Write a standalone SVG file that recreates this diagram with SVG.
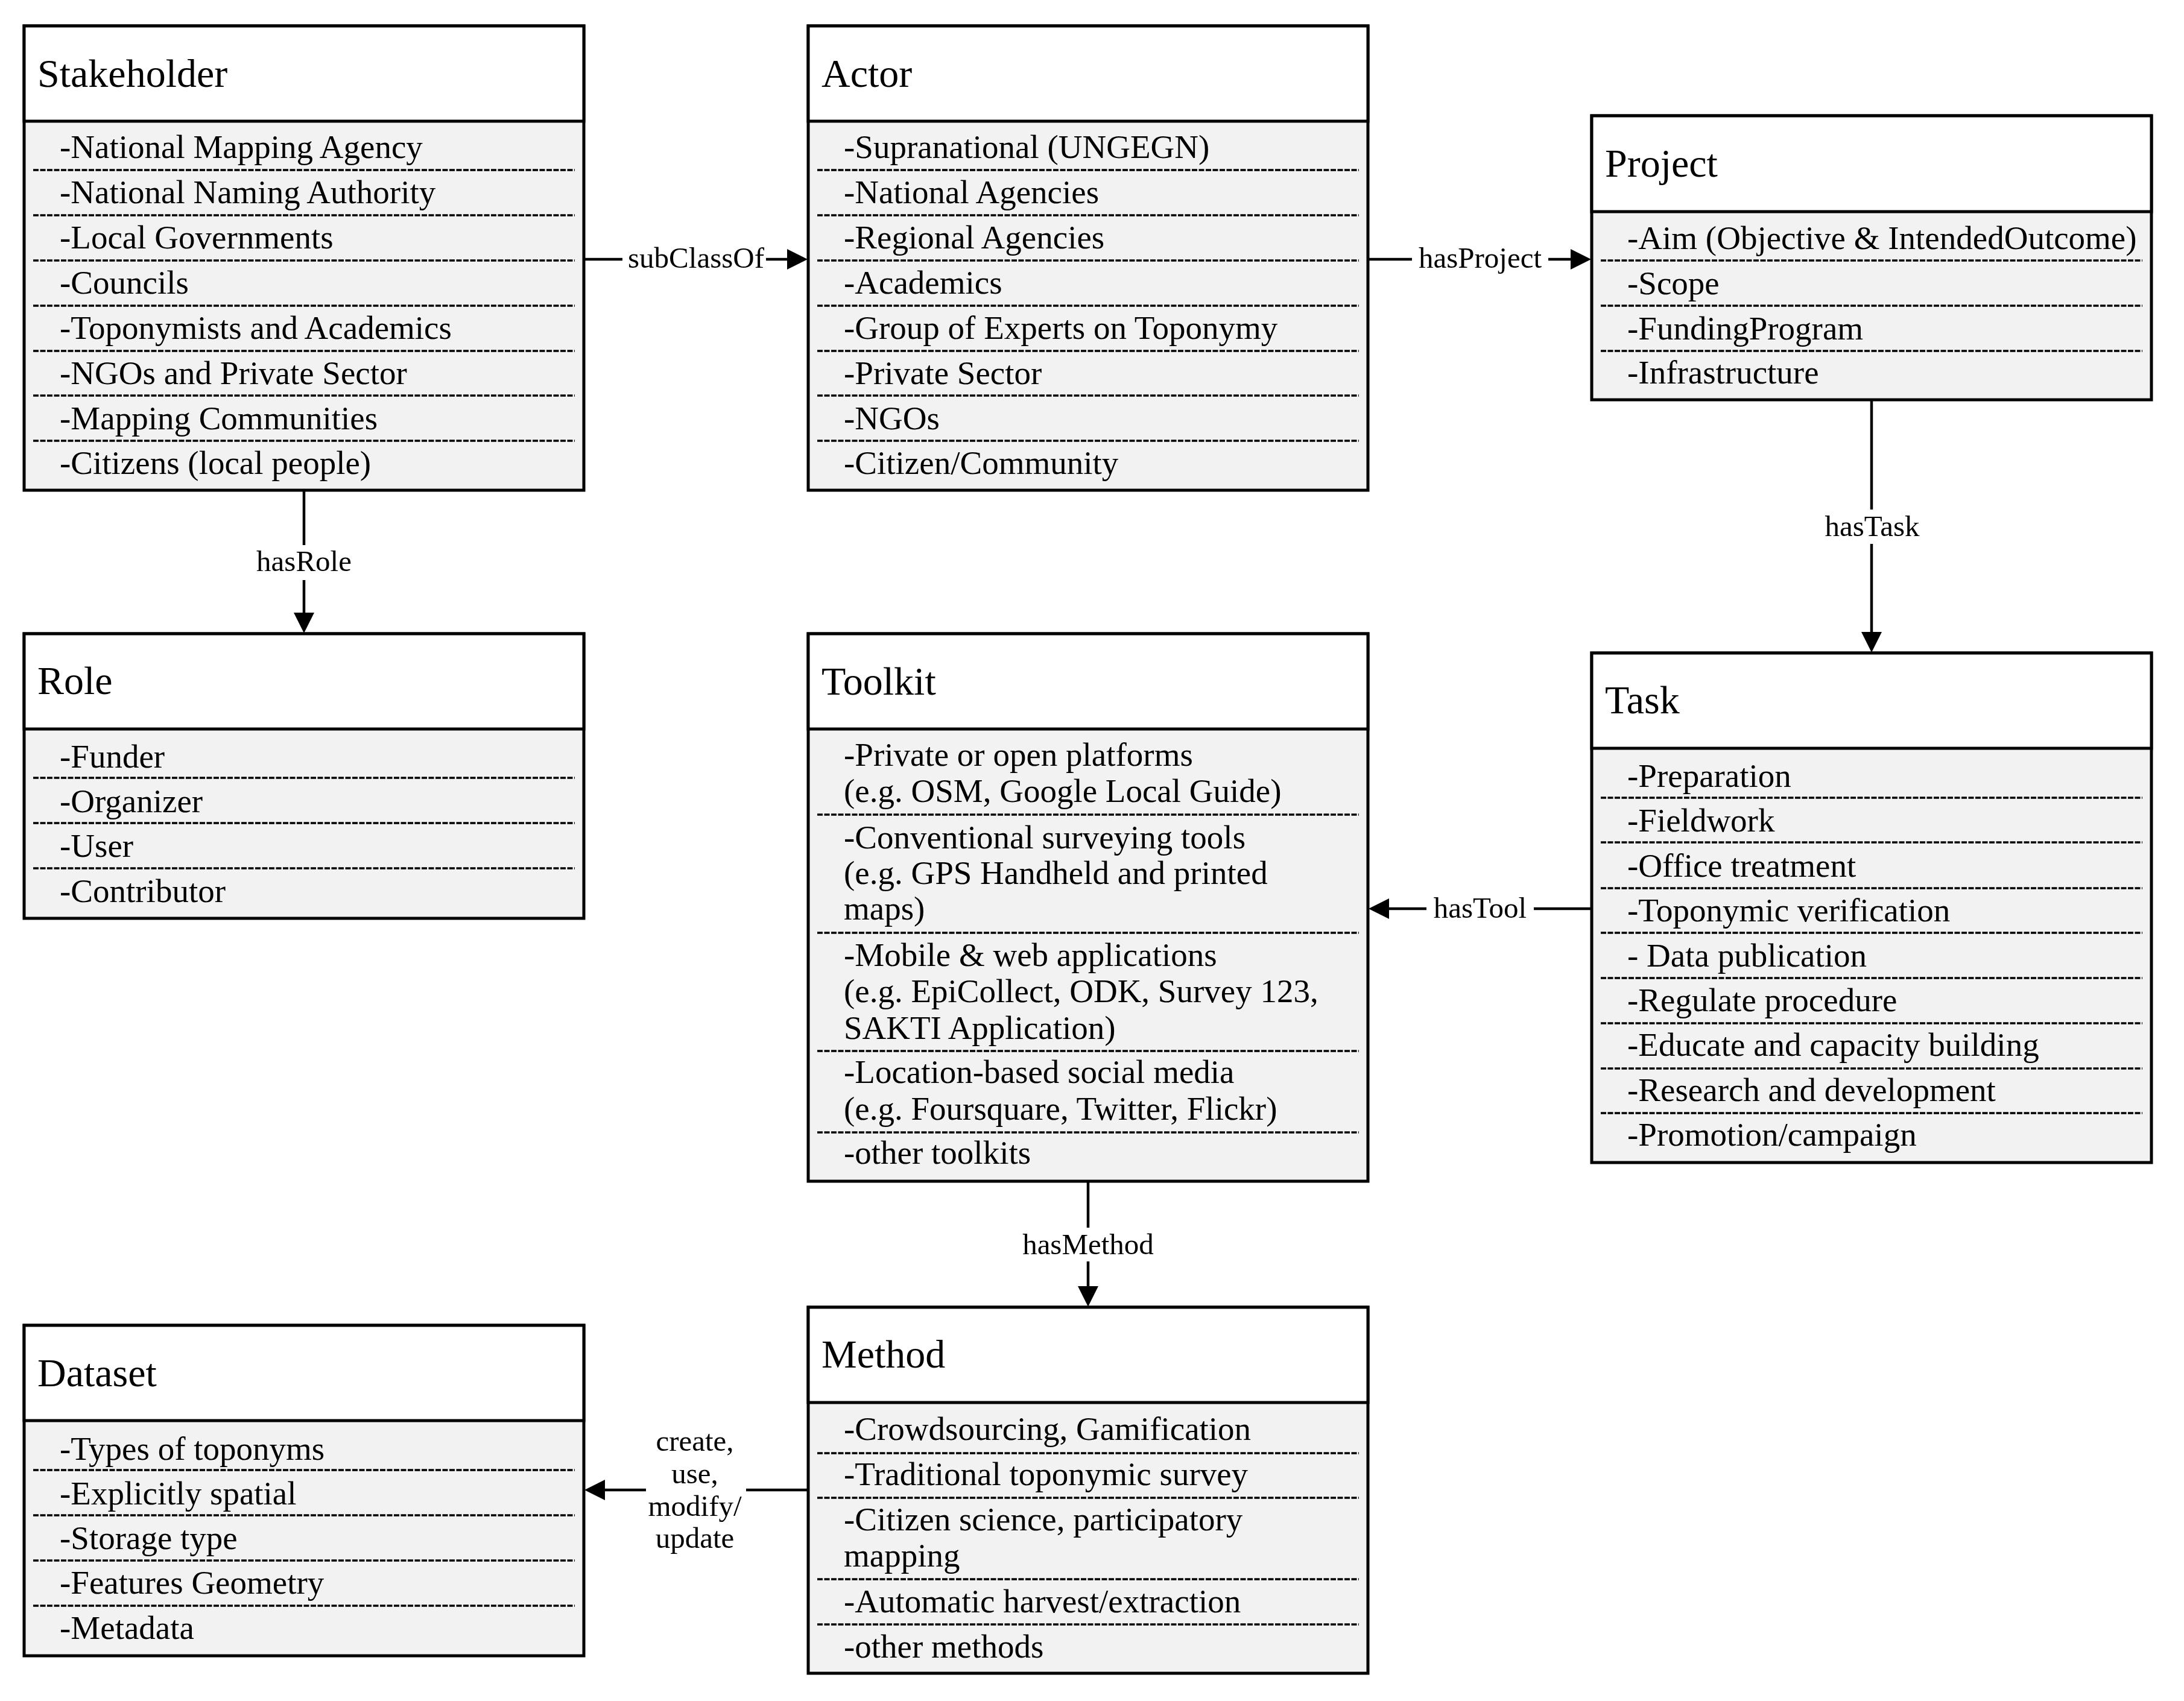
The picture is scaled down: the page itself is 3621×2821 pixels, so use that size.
<svg xmlns="http://www.w3.org/2000/svg" width="3621" height="2821" viewBox="0 0 3621 2821">
<style>
.bd{fill:#f2f2f2;stroke:#000;stroke-width:5}
.hd{fill:#fff;stroke:#000;stroke-width:5}
.dash{stroke:#000;stroke-width:3.5;stroke-dasharray:9 2.5}
text{font-family:"Liberation Serif","Times New Roman",serif;fill:#000}
.t{font-size:66px}
.i{font-size:55px}
.l{font-size:49px;text-anchor:middle}
.c{fill:none;stroke:#000;stroke-width:4.5}
</style>
<defs>
<marker id="arr" markerUnits="userSpaceOnUse" markerWidth="34" markerHeight="34" viewBox="0 0 34 34" refX="1" refY="17" orient="auto">
<path d="M0,0 L34,17 L0,34 z" fill="#000"/>
</marker>
</defs>
<rect width="3621" height="2821" fill="#fff"/>

<g id="connectors">
<path class="c" d="M968,430 H1032 M1270,430 H1306" marker-end="url(#arr)"/>
<text class="l" x="1154" y="444">subClassOf</text>
<path class="c" d="M2268,430 H2341 M2567,430 H2605" marker-end="url(#arr)"/>
<text class="l" x="2454" y="444">hasProject</text>
<path class="c" d="M3103,663 V845 M3103,902 V1049" marker-end="url(#arr)"/>
<text class="l" x="3104" y="889">hasTask</text>
<path class="c" d="M2639,1507 H2543 M2365,1507 H2302" marker-end="url(#arr)"/>
<text class="l" x="2454" y="1522">hasTool</text>
<path class="c" d="M504,813 V904 M504,962 V1017" marker-end="url(#arr)"/>
<text class="l" x="504" y="947">hasRole</text>
<path class="c" d="M1804,1959 V2036 M1804,2092 V2134" marker-end="url(#arr)"/>
<text class="l" x="1804" y="2080">hasMethod</text>
<path class="c" d="M1340,2471 H1237 M1071,2471 H1002" marker-end="url(#arr)"/>
<text class="l" x="1152" y="2406">create,</text>
<text class="l" x="1152" y="2460">use,</text>
<text class="l" x="1152" y="2514">modify/</text>
<text class="l" x="1152" y="2567">update</text>
</g>

<g id="stakeholder">
<rect class="bd" x="40" y="43" width="928" height="770"/>
<rect class="hd" x="40" y="43" width="928" height="158"/>
<text class="t" x="62" y="144">Stakeholder</text>
<g class="dash"><path d="M55,282H953M55,357H953M55,432H953M55,507H953M55,582H953M55,656H953M55,731H953"/></g>
<text class="i" x="99" y="262">-National Mapping Agency</text>
<text class="i" x="99" y="337">-National Naming Authority</text>
<text class="i" x="99" y="412">-Local Governments</text>
<text class="i" x="99" y="487">-Councils</text>
<text class="i" x="99" y="562">-Toponymists and Academics</text>
<text class="i" x="99" y="637">-NGOs and Private Sector</text>
<text class="i" x="99" y="712">-Mapping Communities</text>
<text class="i" x="99" y="786">-Citizens (local people)</text>
</g>

<g id="actor">
<rect class="bd" x="1340" y="43" width="928" height="770"/>
<rect class="hd" x="1340" y="43" width="928" height="158"/>
<text class="t" x="1362" y="144">Actor</text>
<g class="dash"><path d="M1355,282H2253M1355,357H2253M1355,432H2253M1355,507H2253M1355,582H2253M1355,656H2253M1355,731H2253"/></g>
<text class="i" x="1399" y="262">-Supranational (UNGEGN)</text>
<text class="i" x="1399" y="337">-National Agencies</text>
<text class="i" x="1399" y="412">-Regional Agencies</text>
<text class="i" x="1399" y="487">-Academics</text>
<text class="i" x="1399" y="562">-Group of Experts on Toponymy</text>
<text class="i" x="1399" y="637">-Private Sector</text>
<text class="i" x="1399" y="712">-NGOs</text>
<text class="i" x="1399" y="786">-Citizen/Community</text>
</g>

<g id="project">
<rect class="bd" x="2639" y="192" width="928" height="471"/>
<rect class="hd" x="2639" y="192" width="928" height="159"/>
<text class="t" x="2661" y="293">Project</text>
<g class="dash"><path d="M2654,432H3552M2654,507H3552M2654,582H3552"/></g>
<text class="i" x="2698" y="413">-Aim (Objective &amp; IntendedOutcome)</text>
<text class="i" x="2698" y="488">-Scope</text>
<text class="i" x="2698" y="563">-FundingProgram</text>
<text class="i" x="2698" y="636">-Infrastructure</text>
</g>

<g id="role">
<rect class="bd" x="40" y="1051" width="928" height="472"/>
<rect class="hd" x="40" y="1051" width="928" height="158"/>
<text class="t" x="62" y="1151">Role</text>
<g class="dash"><path d="M55,1290H953M55,1365H953M55,1440H953"/></g>
<text class="i" x="99" y="1273">-Funder</text>
<text class="i" x="99" y="1347">-Organizer</text>
<text class="i" x="99" y="1421">-User</text>
<text class="i" x="99" y="1496">-Contributor</text>
</g>

<g id="toolkit">
<rect class="bd" x="1340" y="1051" width="928" height="908"/>
<rect class="hd" x="1340" y="1051" width="928" height="158"/>
<text class="t" x="1362" y="1152">Toolkit</text>
<g class="dash"><path d="M1355,1351H2253M1355,1547H2253M1355,1743H2253M1355,1878H2253"/></g>
<text class="i" x="1399" y="1270">-Private or open platforms</text>
<text class="i" x="1399" y="1330">(e.g. OSM, Google Local Guide)</text>
<text class="i" x="1399" y="1407">-Conventional surveying tools</text>
<text class="i" x="1399" y="1466">(e.g. GPS Handheld and printed</text>
<text class="i" x="1399" y="1525">maps)</text>
<text class="i" x="1399" y="1602">-Mobile &amp; web applications</text>
<text class="i" x="1399" y="1662">(e.g. EpiCollect, ODK, Survey 123,</text>
<text class="i" x="1399" y="1723">SAKTI Application)</text>
<text class="i" x="1399" y="1796">-Location-based social media</text>
<text class="i" x="1399" y="1857">(e.g. Foursquare, Twitter, Flickr)</text>
<text class="i" x="1399" y="1930">-other toolkits</text>
</g>

<g id="task">
<rect class="bd" x="2639" y="1083" width="928" height="845"/>
<rect class="hd" x="2639" y="1083" width="928" height="158"/>
<text class="t" x="2661" y="1183">Task</text>
<g class="dash"><path d="M2654,1323H3552M2654,1397H3552M2654,1473H3552M2654,1547H3552M2654,1622H3552M2654,1697H3552M2654,1772H3552M2654,1846H3552"/></g>
<text class="i" x="2698" y="1305">-Preparation</text>
<text class="i" x="2698" y="1379">-Fieldwork</text>
<text class="i" x="2698" y="1454">-Office treatment</text>
<text class="i" x="2698" y="1528">-Toponymic verification</text>
<text class="i" x="2698" y="1603">- Data publication</text>
<text class="i" x="2698" y="1677">-Regulate procedure</text>
<text class="i" x="2698" y="1751">-Educate and capacity building</text>
<text class="i" x="2698" y="1826">-Research and development</text>
<text class="i" x="2698" y="1900">-Promotion/campaign</text>
</g>

<g id="method">
<rect class="bd" x="1340" y="2168" width="928" height="607"/>
<rect class="hd" x="1340" y="2168" width="928" height="158"/>
<text class="t" x="1362" y="2268">Method</text>
<g class="dash"><path d="M1355,2410H2253M1355,2484H2253M1355,2619H2253M1355,2694H2253"/></g>
<text class="i" x="1399" y="2388">-Crowdsourcing, Gamification</text>
<text class="i" x="1399" y="2463">-Traditional toponymic survey</text>
<text class="i" x="1399" y="2538">-Citizen science, participatory</text>
<text class="i" x="1399" y="2598">mapping</text>
<text class="i" x="1399" y="2674">-Automatic harvest/extraction</text>
<text class="i" x="1399" y="2749">-other methods</text>
</g>

<g id="dataset">
<rect class="bd" x="40" y="2198" width="928" height="548"/>
<rect class="hd" x="40" y="2198" width="928" height="158"/>
<text class="t" x="62" y="2299">Dataset</text>
<g class="dash"><path d="M55,2438H953M55,2513H953M55,2588H953M55,2663H953"/></g>
<text class="i" x="99" y="2421">-Types of toponyms</text>
<text class="i" x="99" y="2495">-Explicitly spatial</text>
<text class="i" x="99" y="2569">-Storage type</text>
<text class="i" x="99" y="2643">-Features Geometry</text>
<text class="i" x="99" y="2718">-Metadata</text>
</g>
</svg>
